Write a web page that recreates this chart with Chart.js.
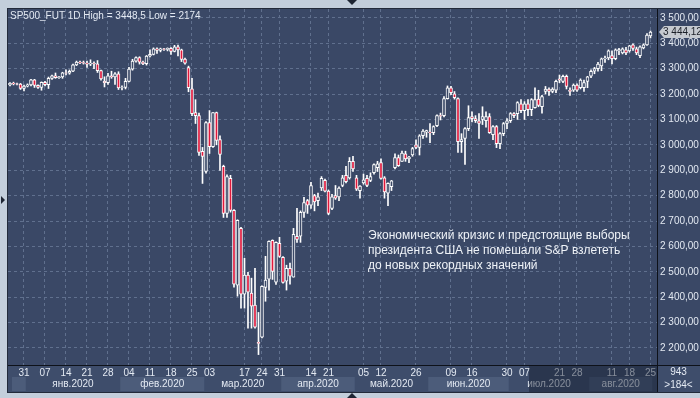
<!DOCTYPE html>
<html>
<head>
<meta charset="utf-8">
<script src="https://cdn.jsdelivr.net/npm/chart.js@4.4.1/dist/chart.umd.min.js"></script>
<style>
  html, body { margin: 0; padding: 0; background: #c3cedb; overflow: hidden; }
  canvas { display: block; }
</style>
</head>
<body>
<canvas id="chart-sp" width="700" height="398"></canvas>
<script>
// SP500_FUT, daily candles (one entry per bar, 184 bars shown)
var openP = [
  3236,3242,3240,3239,3222,3231,3236,3256,3234,3226,
  3246,3237,3262,3272,3265,3268,3284,3282,3290,3315,
  3326,3324,3322,3318,3322,3319,3292,3250,3245,3272,
  3268,3280,3224,3226,3250,3298,3330,3344,3326,3320,
  3350,3356,3378,3372,3378,3376,3380,3368,3386,3374,
  3338,3304,3221,3127,3115,2974,2895,3088,2993,3127,
  3021,2915,2730,2868,2742,2447,2671,2412,2487,2416,
  2369,2222,2243,2439,2471,2624,2459,2612,2557,2463,
  2514,2479,2640,2640,2734,2781,2762,2800,2780,2830,
  2860,2818,2750,2800,2795,2840,2880,2870,2935,2870,
  2820,2850,2868,2860,2890,2910,2930,2870,2810,2835,
  2910,2950,2935,2965,2945,2960,3000,2990,3036,3050,
  3050,3048,3076,3115,3115,3182,3225,3201,3182,3013,
  3025,3064,3111,3103,3095,3100,3095,3111,3040,3072,
  3005,3044,3084,3095,3123,3123,3162,3135,3162,3139,
  3146,3180,3150,3210,3220,3210,3215,3260,3250,3270,
  3215,3215,3235,3225,3225,3250,3270,3290,3300,3311,
  3339,3342,3352,3339,3370,3362,3374,3370,3394,3378,
  3351,3382,3394,3429
];
var highP = [
  3245,3247,3243,3242,3235,3240,3258,3258,3236,3248,
  3250,3267,3275,3283,3270,3286,3295,3295,3318,3330,
  3330,3330,3330,3335,3327,3332,3294,3268,3282,3290,
  3285,3288,3232,3262,3305,3337,3347,3347,3330,3352,
  3374,3382,3382,3381,3380,3382,3383,3392,3393,3377,
  3342,3310,3262,3178,3125,2990,3092,3135,3127,3129,
  3036,2920,2882,2880,2745,2705,2675,2553,2498,2475,
  2514,2340,2445,2561,2622,2626,2618,2636,2560,2526,
  2534,2671,2750,2740,2793,2785,2852,2805,2810,2875,
  2865,2822,2805,2840,2835,2880,2915,2950,2955,2880,
  2840,2885,2880,2890,2925,2935,2945,2875,2850,2860,
  2965,2960,2975,2975,2955,2990,3020,3040,3060,3058,
  3084,3075,3118,3125,3190,3232,3230,3210,3185,3044,
  3068,3154,3130,3115,3123,3150,3130,3123,3076,3076,
  3048,3088,3103,3127,3127,3170,3178,3170,3178,3182,
  3225,3215,3195,3230,3225,3225,3255,3275,3275,3275,
  3225,3240,3240,3260,3255,3270,3295,3305,3325,3342,
  3350,3374,3370,3378,3380,3382,3384,3392,3398,3385,
  3390,3398,3438,3448.5
];
var lowP = [
  3232,3236,3236,3218,3212,3228,3232,3226,3222,3215,
  3232,3222,3258,3262,3262,3262,3275,3278,3288,3312,
  3320,3318,3305,3312,3300,3285,3255,3228,3238,3262,
  3238,3218,3216,3220,3248,3294,3326,3318,3316,3314,
  3346,3354,3360,3366,3372,3370,3356,3366,3350,3328,
  3318,3209,3115,3084,2958,2848,2888,2966,2990,3000,
  2899,2714,2714,2735,2440,2404,2357,2357,2278,2278,
  2278,2174,2240,2384,2428,2470,2450,2557,2455,2428,
  2451,2479,2616,2616,2714,2730,2750,2740,2760,2820,
  2815,2725,2745,2785,2780,2835,2850,2865,2895,2820,
  2790,2845,2835,2855,2885,2895,2865,2790,2760,2820,
  2905,2915,2935,2935,2930,2955,2985,2960,3025,3030,
  3009,3040,3072,3098,3110,3180,3198,3180,2970,2970,
  2923,3056,3090,3088,3025,3080,3070,3045,3020,2989,
  2985,3036,3064,3088,3107,3100,3127,3100,3115,3115,
  3144,3150,3125,3200,3195,3205,3205,3245,3245,3220,
  3195,3210,3210,3220,3210,3225,3265,3280,3290,3292,
  3325,3335,3319,3335,3355,3358,3355,3365,3372,3355,
  3343,3378,3392,3421
];
var closeP = [
  3242,3240,3239,3222,3231,3236,3256,3234,3226,3246,
  3237,3262,3272,3265,3268,3284,3282,3290,3315,3326,
  3324,3322,3318,3322,3319,3292,3260,3245,3272,3268,
  3280,3224,3226,3250,3298,3330,3344,3326,3320,3350,
  3356,3378,3372,3378,3376,3380,3368,3386,3374,3336,
  3322,3225,3123,3115,2970,2954,3088,2993,3127,3017,
  2962,2730,2875,2742,2451,2703,2412,2487,2420,2365,
  2282,2218,2443,2467,2620,2502,2616,2561,2458,2514,
  2483,2648,2628,2734,2773,2762,2840,2775,2795,2868,
  2818,2730,2795,2790,2830,2870,2855,2935,2905,2825,
  2838,2862,2840,2875,2922,2925,2868,2815,2848,2858,
  2950,2918,2968,2945,2952,2985,2990,3036,3054,3056,
  3048,3072,3115,3113,3182,3225,3205,3186,3013,3021,
  3064,3107,3103,3095,3084,3111,3111,3048,3072,3005,
  3044,3084,3095,3123,3115,3166,3135,3162,3139,3178,
  3178,3155,3190,3220,3210,3220,3250,3255,3270,3230,
  3210,3235,3215,3255,3245,3268,3290,3300,3318,3339,
  3342,3370,3339,3374,3375,3378,3362,3390,3380,3362,
  3386,3394,3432,3444.12
];

// price axis levels
var priceTicks = [2200,2300,2400,2500,2600,2700,2800,2900,3000,3100,3200,3300,3400,3500];

// bottom axis: day numbers (bar index -> label) and month bands
var tickIdx  = [4,10,16,22,28,34,40,46,52,57,67,72,77,86,91,101,106,116,126,132,142,147,157,162,172,177,183];
var tickText = ['31','07','14','21','28','04','11','18','25','03','17','24','31','14','21','05','12','26','09','16','30','07','21','28','11','18','25'];
var monthStart = [0,5,32,56,78,99,120,143,166];
var monthText  = ['','янв.2020','фев.2020','мар.2020','апр.2020','май.2020','июн.2020','июл.2020','авг.2020'];

var totalBars = 943;
var noteLines = [
  'Экономический кризис и предстоящие выборы',
  'президента США не помешали S&P взлететь',
  'до новых рекордных значений'
];

var plotBg = '#3a4866';
var axisBg = '#3e4d6b';
var bandBg = '#4c5c7a';
var upFill = plotBg;
var downFill = '#e0193c';
var textCol = '#e3e9f2';
var gridCol = '#60708e';
var axisFont = '10px "Liberation Sans", Arial, sans-serif';

function fmtPrice(v) {
  var s = v.toFixed(2).split('.');
  var ip = s[0].replace(/\B(?=(\d{3})+(?!\d))/g, ' ');
  return ip + ',' + s[1];
}

var bodyData = openP.map(function (o, i) {
  return { x: i, y: [Math.min(o, closeP[i]), Math.max(o, closeP[i])] };
});
var wickData = highP.map(function (h, i) {
  return { x: i, y: [lowP[i], h] };
});
var bodyFill = openP.map(function (o, i) {
  return closeP[i] < o ? downFill : upFill;
});

var framePlugin = {
  id: 'frame',
  beforeDraw: function (chart) {
    var c = chart.ctx, a = chart.chartArea, xs = chart.scales.x;
    var W = chart.width, H = chart.height;
    c.save();
    c.fillStyle = '#c3cedb';
    c.fillRect(0, 0, W, H);
    c.fillStyle = plotBg;
    c.fillRect(a.left, a.top, W - a.left, a.bottom - a.top);
    c.fillStyle = axisBg;
    c.fillRect(a.left, a.bottom, W - a.left, 392 - a.bottom);
    // month bands, every second month lighter
    for (var m = 0; m < monthStart.length; m++) {
      var s = monthStart[m];
      var e = m + 1 < monthStart.length ? monthStart[m + 1] : openP.length;
      var x0 = Math.max(xs.getPixelForValue(s - 0.5), a.left + 4);
      var x1 = Math.min(xs.getPixelForValue(e - 0.5), a.right);
      if (m % 2 === 0) {
        c.fillStyle = bandBg;
        c.fillRect(x0, 377, x1 - x0, 14);
      }
      if (monthText[m]) {
        c.fillStyle = textCol;
        c.font = axisFont;
        c.textAlign = 'center';
        c.textBaseline = 'middle';
        c.fillText(monthText[m], (x0 + x1) / 2, 384);
      }
    }
    c.restore();
  },
  afterDraw: function (chart) {
    var c = chart.ctx, a = chart.chartArea, xs = chart.scales.x, ys = chart.scales.y;
    var W = chart.width, H = chart.height;
    c.save();
    // dimmed part of the time axis
    var dx = xs.getPixelForValue(148.3);
    c.fillStyle = 'rgba(18,26,44,0.45)';
    c.fillRect(dx, a.bottom + 1, a.right - dx, 391 - a.bottom);
    // separators and frame lines
    c.fillStyle = '#0e121a';
    c.fillRect(a.left, a.bottom, W - a.left, 1);
    c.fillRect(a.right, a.top, 1, 392 - a.top);
    c.fillStyle = '#222a3a';
    c.fillRect(a.left - 1, a.top - 1, W - a.left + 1, 1);
    c.fillRect(a.left - 1, a.top - 1, 1, 393 - a.top);
    c.fillRect(a.left - 1, 392, W - a.left + 1, 1);
    // bottom right cell
    c.fillStyle = textCol;
    c.font = axisFont;
    c.textAlign = 'center';
    c.textBaseline = 'middle';
    c.fillText(String(totalBars), (a.right + W) / 2, 372);
    c.fillText('>' + openP.length + '<', (a.right + W) / 2, 385);
    // header
    c.textAlign = 'left';
    c.fillText('SP500_FUT 1D High = ' + String(Math.max.apply(null, highP)).replace('.', ',') +
      ' Low = ' + String(Math.min.apply(null, lowP)).replace('.', ','), 10, 16);
    // note
    c.font = '12px "Liberation Sans", Arial, sans-serif';
    c.fillStyle = '#eef2f7';
    noteLines.forEach(function (t, k) { c.fillText(t, 368, 236 + k * 15); });
    // last price tag
    var last = closeP[closeP.length - 1];
    var py = Math.round(ys.getPixelForValue(last));
    c.fillStyle = '#c6cad0';
    c.beginPath();
    c.moveTo(a.right + 2, py);
    c.lineTo(a.right + 7, py - 6);
    c.lineTo(W, py - 6);
    c.lineTo(W, py + 6);
    c.lineTo(a.right + 7, py + 6);
    c.closePath();
    c.fill();
    c.fillStyle = '#1b1f27';
    c.font = axisFont;
    c.fillText(fmtPrice(last), a.right + 6, py + 0.5);
    // scroll markers
    c.fillStyle = '#1e2533';
    c.beginPath(); c.moveTo(347, 0); c.lineTo(357, 0); c.lineTo(352, 5); c.fill();
    c.beginPath(); c.moveTo(347, H); c.lineTo(357, H); c.lineTo(352, H - 5); c.fill();
    c.beginPath(); c.moveTo(1, 196); c.lineTo(1, 204); c.lineTo(5, 200); c.fill();
    c.restore();
  }
};

var ctx = document.getElementById('chart-sp').getContext('2d');
var chart = new Chart(ctx, {
  type: 'bar',
  data: {
    datasets: [
      {
        label: 'body',
        data: bodyData,
        backgroundColor: bodyFill,
        borderColor: '#ffffff',
        borderWidth: 1,
        borderSkipped: false,
        barThickness: 3,
        grouped: false,
        order: 0
      },
      {
        label: 'wick',
        data: wickData,
        backgroundColor: '#ffffff',
        borderWidth: 0,
        barThickness: 1,
        grouped: false,
        order: 1
      }
    ]
  },
  options: {
    responsive: false,
    animation: false,
    devicePixelRatio: 1,
    layout: { padding: { left: 8, top: 8, right: 0, bottom: 0 } },
    plugins: { legend: { display: false }, tooltip: { enabled: false } },
    scales: {
      x: {
        type: 'linear',
        offset: false,
        min: -0.57,
        max: 184.86,
        afterBuildTicks: function (s) { s.ticks = tickIdx.map(function (v) { return { value: v }; }); },
        afterFit: function (s) { s.height = 33; },
        ticks: {
          autoSkip: false,
          maxRotation: 0,
          minRotation: 0,
          padding: 2,
          color: textCol,
          font: { family: '"Liberation Sans", Arial, sans-serif', size: 10 },
          callback: function (v) {
            var k = tickIdx.indexOf(v);
            return k >= 0 ? tickText[k] : '';
          }
        },
        grid: { color: gridCol, drawTicks: false, offset: false },
        border: { display: false, dash: [3, 3] }
      },
      y: {
        position: 'right',
        min: 2133,
        max: 3535,
        afterBuildTicks: function (s) { s.ticks = priceTicks.map(function (v) { return { value: v }; }); },
        afterFit: function (s) { s.width = 43; },
        ticks: {
          padding: 3,
          color: textCol,
          font: { family: '"Liberation Sans", Arial, sans-serif', size: 10 },
          callback: function (v) { return fmtPrice(v); }
        },
        grid: { color: gridCol, drawTicks: false },
        border: { display: false, dash: [3, 3] }
      }
    }
  },
  plugins: [framePlugin]
});
</script>
</body>
</html>
